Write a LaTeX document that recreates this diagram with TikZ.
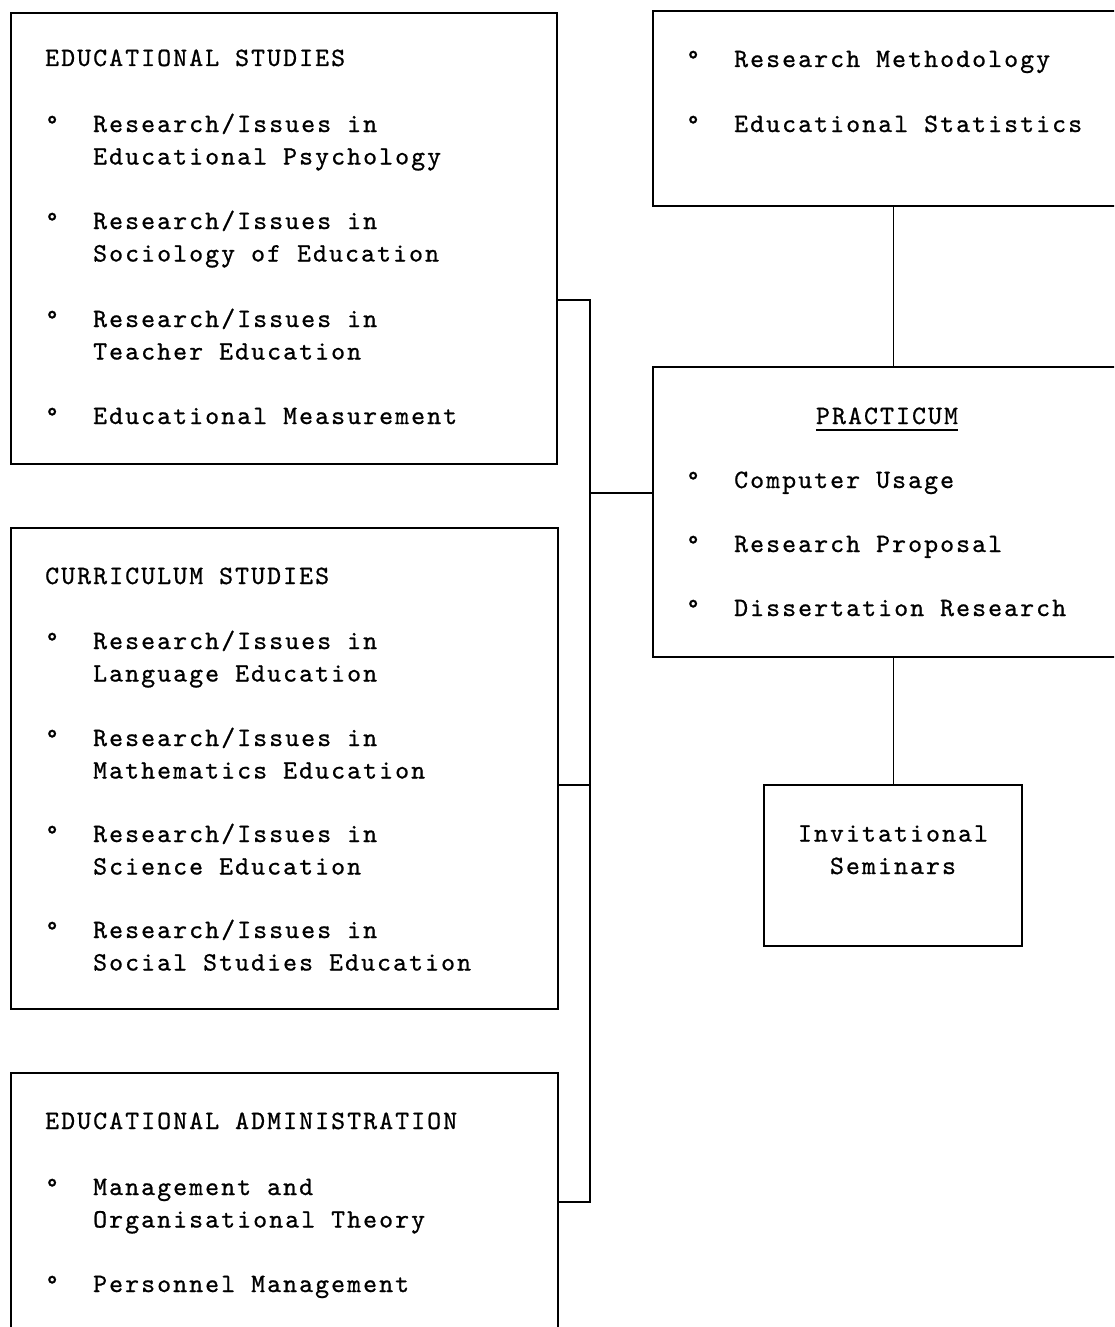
\documentclass[tikz,border=0pt]{standalone}
\usepackage{fontspec}
\newfontfamily\tw{lmmono10-regular.otf}[LetterSpace=7.9,FakeBold=0.8]
\newcommand\twfont{\tw\fontsize{26.5pt}{32.5pt}\selectfont\spaceskip=16pt\relax}
\newcommand\itm[1]{\begin{tabular}[t]{@{}p{48pt}@{}l@{}}°&#1\end{tabular}}
\tikzset{
  box/.style={draw, line width=2.2pt, inner sep=0pt, anchor=north west},
  txt/.style={font=\twfont, inner sep=0pt, anchor=base west, align=left},
  ctxt/.style={font=\twfont, inner sep=0pt, anchor=base, align=center},
  link/.style={line width=2pt},
  thin/.style={line width=1.2pt},
}
\begin{document}
\begin{tikzpicture}[x=1pt,y=-1pt]
\useasboundingbox (0,0) rectangle (1114,1327);
\clip (0,0) rectangle (1114,1327);
% boxes
\node[box, minimum width=546pt, minimum height=451pt] (es) at (10,12) {};
\node[box, minimum width=547pt, minimum height=481pt] (cs) at (10,527) {};
\node[box, minimum width=547pt, minimum height=300pt] (ea) at (10,1072) {};
\node[box, minimum width=480pt, minimum height=195pt] (rm) at (652,10) {};
\node[box, minimum width=480pt, minimum height=290pt] (pr) at (652,366) {};
\node[box, minimum width=258pt, minimum height=161pt] (inv) at (763,784) {};
% Educational studies
\node[txt] (esT) at (45,66) {EDUCATIONAL STUDIES};
\node[txt] (es1) at (45,132) {\itm{Research/Issues in\\&Educational Psychology}};
\node[txt] (es2) at (45,229) {\itm{Research/Issues in\\&Sociology of Education}};
\node[txt] (es3) at (45,327) {\itm{Research/Issues in\\&Teacher Education}};
\node[txt] (es4) at (45,424) {\itm{Educational Measurement}};
% Curriculum studies
\node[txt] (csT) at (45,584) {CURRICULUM STUDIES};
\node[txt] (cs1) at (45,649) {\itm{Research/Issues in\\&Language Education}};
\node[txt] (cs2) at (45,746) {\itm{Research/Issues in\\&Mathematics Education}};
\node[txt] (cs3) at (45,842) {\itm{Research/Issues in\\&Science Education}};
\node[txt] (cs4) at (45,938) {\itm{Research/Issues in\\&Social Studies Education}};
% Educational administration
\node[txt] (eaT) at (45,1129) {EDUCATIONAL ADMINISTRATION};
\node[txt] (ea1) at (45,1195) {\itm{Management and\\&Organisational Theory}};
\node[txt] (ea2) at (45,1292) {\itm{Personnel Management}};
% Research methodology box
\node[txt] (rm1) at (686,67) {\itm{Research Methodology}};
\node[txt] (rm2) at (686,132) {\itm{Educational Statistics}};
% Practicum
\node[ctxt] (prT) at (887,424) {PRACTICUM};
\draw[line width=2pt] ([yshift=-6pt]prT.base west) -- ([yshift=-6pt]prT.base east);
\node[txt] (pr1) at (686,488) {\itm{Computer Usage}};
\node[txt] (pr2) at (686,552) {\itm{Research Proposal}};
\node[txt] (pr3) at (686,616) {\itm{Dissertation Research}};
% Invitational seminars
\node[ctxt] (invT) at (893,874) {Invitational\\Seminars};
% connectors
\coordinate (j1) at (590,300);
\coordinate (j2) at (590,785);
\coordinate (j3) at (590,1202);
\coordinate (jp) at (590,493);
\draw[link] (es.east |- j1) -- (j1) -- (j3) -- (ea.east |- j3);
\draw[link] (cs.east |- j2) -- (j2);
\draw[link] (jp) -- (pr.west |- jp);
\draw[thin] (rm.south) -- (pr.north);
\draw[thin] (pr.south) -- (inv.north);
\end{tikzpicture}
\end{document}
